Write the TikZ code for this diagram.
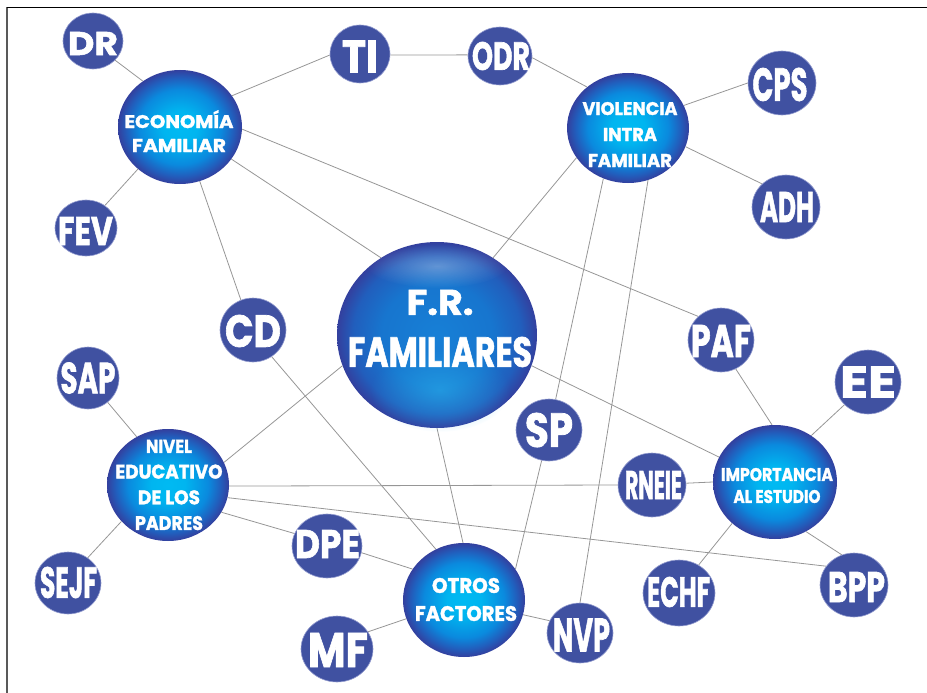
\documentclass[tikz,border=0pt]{standalone}
\usepackage{fontspec}
\setmainfont{Poppins}[BoldFeatures={FakeBold=1.6}]
\usepackage{graphicx}
\usetikzlibrary{shapes.geometric,fadings}
\pgfdeclarelayer{bg}
\pgfsetlayers{bg,main}
\definecolor{nodeblue}{RGB}{64,81,161}
\definecolor{nodeedge}{RGB}{150,158,208}
\definecolor{linegray}{RGB}{150,150,150}
\definecolor{glowcyan}{RGB}{40,175,235}
\tikzfading[name=softglow, inner color=transparent!0, outer color=transparent!100]
\pgfdeclareradialshading{bubble}{\pgfpoint{0bp}{0bp}}{rgb(0bp)=(0,0.73,0.95); rgb(7bp)=(0,0.71,0.94); rgb(16.5bp)=(0.04,0.54,0.87); rgb(21.5bp)=(0.13,0.37,0.74); rgb(25bp)=(0.20,0.25,0.62); rgb(50bp)=(0.20,0.25,0.62)}
\pgfdeclareradialshading{frball}{\pgfpoint{0bp}{0bp}}{rgb(0bp)=(0.09,0.50,0.84); rgb(14bp)=(0.09,0.46,0.81); rgb(21bp)=(0.13,0.37,0.74); rgb(25bp)=(0.20,0.25,0.62); rgb(50bp)=(0.20,0.25,0.62)}
\newcommand{\fitt}[3]{\resizebox{#1pt}{#2pt}{\bfseries #3}}
\tikzset{
  big/.style={ellipse, shade, shading=bubble, inner sep=0pt},
  small/.style={ellipse, fill=nodeblue, draw=nodeedge, line width=0.6pt, inner sep=0pt},
  txt/.style={text=white, inner sep=0pt, align=center},
  link/.style={draw=linegray, line width=0.8pt},
}
\begin{document}
\begin{tikzpicture}[x=1pt, y=-1pt]
\useasboundingbox (0,0) rectangle (927,693);
\draw[gray!70!black, line width=1.3pt] (7,693) -- (7,7);
\draw[black, line width=0.7pt] (7,7) -- (927,7);

% big nodes
\node[big, minimum width=124pt, minimum height=114pt] (eco) at (180,127) {};
\node[big, minimum width=122pt, minimum height=110pt] (vif) at (628,128) {};
\node[ellipse, shade, shading=frball, inner sep=0pt, minimum width=200pt, minimum height=186pt] (fr) at (437,335) {};
\node[big, minimum width=122pt, minimum height=112pt] (niv) at (168,485) {};
\node[big, minimum width=124pt, minimum height=114pt] (imp) at (775,482) {};
\node[big, minimum width=122pt, minimum height=114pt] (otr) at (464,600) {};

% F.R. glow and highlight
\fill[glowcyan, opacity=0.6, path fading=softglow] (440,390) ellipse [x radius=70, y radius=42];
\fill[white, opacity=0.3, path fading=softglow] (437,266) ellipse [x radius=70, y radius=22];

% small nodes
\node[small, minimum width=60pt, minimum height=56pt] (dr) at (93,41) {};
\node[small, minimum width=60pt, minimum height=58pt] (ti) at (360,54) {};
\node[small, minimum width=64pt, minimum height=58pt] (odr) at (500,56) {};
\node[small, minimum width=68pt, minimum height=64pt] (cps) at (782,83) {};
\node[small, minimum width=68pt, minimum height=64pt] (adh) at (786,207) {};
\node[small, minimum width=62pt, minimum height=56pt] (fev) at (86,228) {};
\node[small, minimum width=66pt, minimum height=64pt] (cd) at (253,330) {};
\node[small, minimum width=66pt, minimum height=64pt] (paf) at (721,340) {};
\node[small, minimum width=62pt, minimum height=62pt] (sap) at (88,378) {};
\node[small, minimum width=66pt, minimum height=64pt] (ee) at (868,382) {};
\node[small, minimum width=66pt, minimum height=62pt] (sp) at (549,430) {};
\node[small, minimum width=68pt, minimum height=64pt] (rne) at (652,485) {};
\node[small, minimum width=72pt, minimum height=66pt] (echf) at (679,593) {};
\node[small, minimum width=68pt, minimum height=64pt] (bpp) at (854,585) {};
\node[small, minimum width=66pt, minimum height=62pt] (sejf) at (68,583) {};
\node[small, minimum width=70pt, minimum height=64pt] (dpe) at (327,546) {};
\node[small, minimum width=72pt, minimum height=66pt] (mf) at (337,649) {};
\node[small, minimum width=66pt, minimum height=60pt] (nvp) at (580,633) {};

% texts of big nodes
\node[txt, font=\fontsize{10}{24}\selectfont] (ecoT) at (179,133.5) {\fitt{109}{13}{ECONOM\smash{Í}A}\\\fitt{94}{13}{FAMILIAR}};
\node[txt, font=\fontsize{10}{26}\selectfont] (vifT) at (630,134.5) {\fitt{95}{13}{VIOLENCIA}\\\fitt{54}{13}{INTRA}\\\fitt{84}{13}{FAMILIAR}};
\node[txt, font=\fontsize{10}{52}\selectfont] (frT) at (440,328.5) {\fitt{67}{25}{F.R.}\\\fitt{184}{30}{FAMILIARES}};
\node[txt, font=\fontsize{10}{25.7}\selectfont] (nivT) at (169,485) {\fitt{46}{13}{NIVEL}\\\fitt{107}{14}{EDUCATIVO}\\\fitt{62}{14}{DE LOS}\\\fitt{68}{14}{PADRES}};
\node[txt, font=\fontsize{10}{22}\selectfont] (impT) at (777,485.5) {\fitt{112}{13}{IMPORTANCIA}\\\fitt{87}{13}{AL ESTUDIO}};
\node[txt, font=\fontsize{10}{28}\selectfont] (otrT) at (466,599.5) {\fitt{68}{15}{OTROS}\\\fitt{102}{15}{FACTORES}};

% texts of small nodes
\node[txt] (drT) at (93,43.5) {\fitt{50}{23}{DR}};
\node[txt] (tiT) at (360,56.5) {\fitt{36}{32}{TI}};
\node[txt] (odrT) at (501,56) {\fitt{58}{28}{ODR}};
\node[txt] (cpsT) at (780,84.5) {\fitt{55}{33}{CPS}};
\node[txt] (adhT) at (787,207) {\fitt{54}{30}{ADH}};
\node[txt] (fevT) at (85.5,231) {\fitt{55}{28}{FEV}};
\node[txt] (cdT) at (253,331) {\fitt{56}{32}{CD}};
\node[txt] (pafT) at (721,341) {\fitt{60}{32}{PAF}};
\node[txt] (sapT) at (88,378) {\fitt{55}{31}{SAP}};
\node[txt] (eeT) at (868,382) {\fitt{56}{31}{EE}};
\node[txt] (spT) at (549,430) {\fitt{48}{34}{SP}};
\node[txt] (rneT) at (653.5,485) {\fitt{57}{28}{RNEIE}};
\node[txt] (echfT) at (678.5,592) {\fitt{63}{30}{ECHF}};
\node[txt] (bppT) at (856.5,587) {\fitt{57}{30}{BPP}};
\node[txt] (sejfT) at (68.5,582.5) {\fitt{57}{31}{SEJF}};
\node[txt] (dpeT) at (327.5,544) {\fitt{65}{28}{DPE}};
\node[txt] (mfT) at (338,650) {\fitt{60}{34}{MF}};
\node[txt] (nvpT) at (581.5,635) {\fitt{57}{33}{NVP}};

% connectors
\begin{pgfonlayer}{bg}
\draw[link] (dr.-41) -- (eco.129);
\draw[link] (fev.50) -- (eco.-135);
\draw[link] (eco.31) -- (ti.182);
\draw[link] (ti.-2) -- (odr.178);
\draw[link] (odr.-3) -- (vif.135);
\draw[link] (vif.22) -- (cps.180);
\draw[link] (vif.-18) -- (adh.136);
\draw[link] (eco.-32) -- (fr.126);
\draw[link] (eco.-2) -- (paf.134);
\draw[link] (eco.-70) -- (cd.112);
\draw[link] (cd.-55) -- (otr.119);
\draw[link] (fr.54) -- (vif.210);
\draw[link] (vif.-116) -- (sp);
\draw[link] (sp) -- (otr.31);
\draw[link] (vif.-69) -- (nvp.90);
\draw[link] (fr.-18) -- (imp.156);
\draw[link] (paf.-63) -- (imp.93);
\draw[link] (ee.224) -- (imp.52);
\draw[link] (rne.3) -- (imp.180);
\draw[link] (echf.55) -- (imp.224);
\draw[link] (imp.-58) -- (bpp.112);
\draw[link] (niv.-12) -- (bpp.146);
\draw[link] (niv.-1) -- (rne.180);
\draw[link] (niv.-27) -- (dpe.159);
\draw[link] (dpe.-11) -- (otr.149);
\draw[link] (mf.29) -- (otr.198);
\draw[link] (otr.-14) -- (nvp.158);
\draw[link] (fr.-90) -- (otr.91);
\draw[link] (fr.198) -- (niv.22);
\draw[link] (sap.-51) -- (niv.123);
\draw[link] (sejf.52) -- (niv.-142);
\end{pgfonlayer}
\end{tikzpicture}
\end{document}
